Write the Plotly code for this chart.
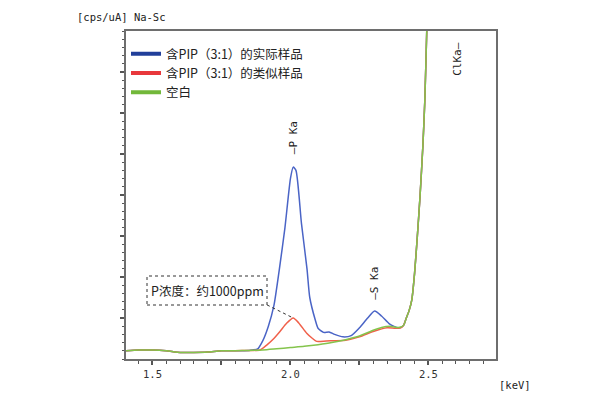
import plotly.graph_objects as go

# ---- data ----
base_x = [1.40, 1.45, 1.50, 1.55, 1.60, 1.65, 1.70, 1.75, 1.80, 1.85]
base_y = [0.20, 0.22, 0.22, 0.20, 0.16, 0.16, 0.17, 0.20, 0.20, 0.21]

rise_x = [2.41, 2.42, 2.43, 2.44, 2.45, 2.46, 2.47, 2.48, 2.487, 2.494, 2.50, 2.51]
rise_y = [0.82, 1.00, 1.18, 1.45, 2.10, 3.00, 4.00, 5.20, 6.30, 8.00, 9.50, 11.0]

blue_x = base_x + [1.88, 1.90, 1.92, 1.94, 1.96, 1.98, 2.00, 2.01, 2.02, 2.04, 2.06, 2.07,
                   2.09, 2.10, 2.12, 2.14, 2.16, 2.19, 2.22, 2.25, 2.28, 2.305, 2.33,
                   2.36, 2.39, 2.40] + rise_x
blue_y = base_y + [0.24, 0.45, 0.80, 1.30, 2.20, 3.20, 4.40, 4.68, 4.60, 3.30, 2.20, 1.50,
                   0.95, 0.75, 0.65, 0.66, 0.60, 0.54, 0.57, 0.76, 1.00, 1.17, 1.05,
                   0.85, 0.76, 0.77] + rise_y

red_x = base_x + [1.89, 1.914, 1.94, 1.962, 1.986, 2.01, 2.03, 2.059, 2.08, 2.095,
                  2.13, 2.20, 2.25, 2.30, 2.35, 2.38, 2.40] + rise_x
red_y = base_y + [0.22, 0.34, 0.50, 0.67, 0.87, 1.00, 0.88, 0.63, 0.50, 0.43,
                  0.44, 0.46, 0.54, 0.67, 0.76, 0.75, 0.76] + rise_y

green_x = base_x + [1.90, 1.95, 2.00, 2.05, 2.10, 2.15, 2.20, 2.25, 2.30, 2.33,
                    2.36, 2.39, 2.40] + rise_x
green_y = base_y + [0.22, 0.25, 0.28, 0.31, 0.35, 0.40, 0.47, 0.56, 0.70, 0.77,
                    0.80, 0.77, 0.78] + rise_y

names = ["含PIP（3:1）的实际样品", "含PIP（3:1）的类似样品", "空白"]
line_colors = ["#4a64c6", "#f0604a", "#84c44c"]
legend_colors = ["#213f9a", "#e8383c", "#72b83a"]

xtick_vals = [1.5, 1.75, 2.0, 2.25, 2.5]
xtick_text = ["1.5", "", "2.0", "", "2.5"]
ytick_vals = [1, 2, 3, 4, 5, 6, 7]

fig = go.Figure()
for xs, ys, c in [(blue_x, blue_y, line_colors[0]),
                  (red_x, red_y, line_colors[1]),
                  (green_x, green_y, line_colors[2])]:
    fig.add_trace(go.Scatter(x=xs, y=ys, mode="lines", showlegend=False, hoverinfo="skip",
                             line=dict(color=c, width=1.5, shape="spline", smoothing=0.6)))
# legend entries (thicker swatches, as in the reference)
for nm, c in zip(names, legend_colors):
    fig.add_trace(go.Scatter(x=[None], y=[None], mode="lines", name=nm,
                             line=dict(color=c, width=4)))

mono = "DejaVu Sans Mono"
cjk = "Noto Sans CJK SC"

fig.update_layout(
    width=600, height=400,
    margin=dict(l=126, r=104, t=31, b=41),
    paper_bgcolor="white", plot_bgcolor="white",
    showlegend=True,
    legend=dict(x=0.0, y=0.975, xanchor="left", yanchor="top",
                bgcolor="rgba(0,0,0,0)", font=dict(family=cjk, size=12.5, color="#222"),
                tracegroupgap=0, itemwidth=30),
    xaxis=dict(range=[1.404, 2.745], tickvals=xtick_vals, ticktext=xtick_text,
               ticks="outside", ticklen=4, tickcolor="#555", tickwidth=1.5,
               minor=dict(dtick=0.05, ticks="outside", ticklen=3, tickcolor="#555", tickwidth=1),
               showgrid=False, zeroline=False, showline=True, linecolor="#6e6e6e",
               linewidth=2, mirror=True,
               tickfont=dict(family=mono, size=10.5, color="#333")),
    yaxis=dict(range=[0, 8], tickvals=ytick_vals, showticklabels=False,
               ticks="outside", ticklen=4, tickcolor="#555", tickwidth=1.5,
               minor=dict(dtick=0.2, ticks="outside", ticklen=2, tickcolor="#555", tickwidth=1),
               showgrid=False, zeroline=False, showline=True, linecolor="#6e6e6e",
               linewidth=2, mirror=True),
)

# text labels
fig.add_annotation(text="[cps/uA] Na-Sc", xref="paper", yref="paper",
                   x=(75 - 126) / 370, y=(359 - 17) / 328, xanchor="left", yanchor="middle",
                   showarrow=False, font=dict(family=mono, size=10.5, color="#222"))
fig.add_annotation(text="[keV]", xref="paper", yref="paper",
                   x=(497 - 126) / 370, y=(359 - 385) / 328, xanchor="left", yanchor="middle",
                   showarrow=False, font=dict(family=mono, size=10.5, color="#222"))
fig.add_annotation(text="—P Ka", x=2.01, y=5.39, textangle=-90, showarrow=False,
                   xanchor="center", yanchor="middle",
                   font=dict(family=mono, size=11, color="#222"))
fig.add_annotation(text="—S Ka", x=2.305, y=1.85, textangle=-90, showarrow=False,
                   xanchor="center", yanchor="middle",
                   font=dict(family=mono, size=11, color="#222"))
fig.add_annotation(text="ClKa—", x=2.607, y=7.32, textangle=-90, showarrow=False,
                   xanchor="center", yanchor="middle",
                   font=dict(family=mono, size=11, color="#222"))

# concentration callout
fig.add_shape(type="rect", xref="paper", yref="paper",
              x0=(147 - 126) / 370, x1=(267 - 126) / 370,
              y0=(359 - 305) / 328, y1=(359 - 276) / 328,
              line=dict(color="#333", width=1, dash="dot"), fillcolor="white")
fig.add_annotation(text="P浓度：约1000ppm", xref="paper", yref="paper",
                   x=(207 - 126) / 370, y=(359 - 290.5) / 328, showarrow=False,
                   xanchor="center", yanchor="middle",
                   font=dict(family=cjk, size=12.5, color="#222"))
fig.add_shape(type="line", xref="x", yref="y", x0=1.915, y0=1.32, x1=2.01, y1=1.0,
              line=dict(color="#333", width=1, dash="dot"))

fig.write_html("out.html")
